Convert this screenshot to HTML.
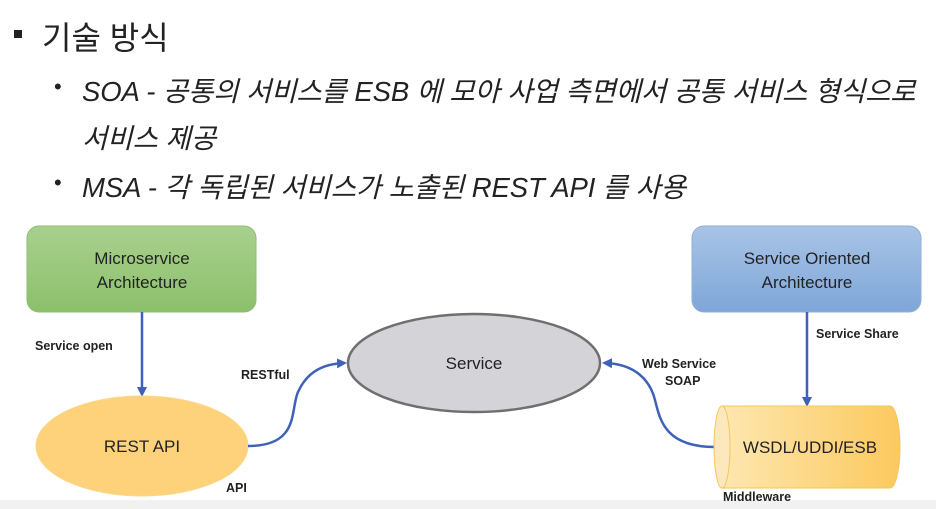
<!DOCTYPE html>
<html><head><meta charset="utf-8"><style>
html,body{margin:0;padding:0;background:#fff;}
body{width:936px;height:509px;position:relative;overflow:hidden;font-family:"Liberation Sans","Noto Sans CJK KR",sans-serif;}
.t{position:absolute;white-space:nowrap;color:#222;}
.i{font-style:italic;font-size:27.5px;}
</style></head><body>
<div style="position:absolute;left:14px;top:30px;width:8px;height:8px;background:#222"></div>
<div class="t" style="left:42px;top:13px;font-size:32px;">기술 방식</div>
<div class="t" style="left:54px;top:74px;font-size:22px;">•</div>
<div class="t i" style="left:82px;top:69px;letter-spacing:-0.1px;">SOA - 공통의 서비스를 ESB 에 모아 사업 측면에서 공통 서비스 형식으로</div>
<div class="t i" style="left:82px;top:116px;">서비스 제공</div>
<div class="t" style="left:54px;top:170px;font-size:22px;">•</div>
<div class="t i" style="left:82px;top:165px;letter-spacing:-0.1px;">MSA - 각 독립된 서비스가 노출된 REST API 를 사용</div>
<svg width="936" height="509" style="position:absolute;left:0;top:0" font-family="Liberation Sans, sans-serif">
<defs>
<linearGradient id="g" x1="0" y1="0" x2="0" y2="1"><stop offset="0" stop-color="#a9d08e"/><stop offset="1" stop-color="#8cc06c"/></linearGradient>
<linearGradient id="b" x1="0" y1="0" x2="0" y2="1"><stop offset="0" stop-color="#a8c4e6"/><stop offset="1" stop-color="#7fa6d8"/></linearGradient>
<linearGradient id="y" x1="0" y1="0" x2="1" y2="0"><stop offset="0" stop-color="#fde7b0"/><stop offset="1" stop-color="#fcc95e"/></linearGradient>
<marker id="a" markerWidth="10" markerHeight="10" refX="7" refY="5" orient="auto" markerUnits="userSpaceOnUse"><path d="M0,0 L10,5 L0,10 z" fill="#3d62b8"/></marker>
</defs>
<rect x="0" y="500" width="936" height="9" fill="#f1f1f1"/>
<rect x="27" y="226" width="229" height="86" rx="12" fill="url(#g)" stroke="#8fbf72"/>
<text x="142" y="264" text-anchor="middle" font-size="17" fill="#222">Microservice</text>
<text x="142" y="288" text-anchor="middle" font-size="17" fill="#222">Architecture</text>
<rect x="692" y="226" width="229" height="86" rx="12" fill="url(#b)" stroke="#8fb0dc"/>
<text x="807" y="264" text-anchor="middle" font-size="17" fill="#222">Service Oriented</text>
<text x="807" y="288" text-anchor="middle" font-size="17" fill="#222">Architecture</text>
<line x1="142" y1="312" x2="142" y2="394" stroke="#3d62b8" stroke-width="2.5" marker-end="url(#a)"/>
<line x1="807" y1="312" x2="807" y2="404" stroke="#3d62b8" stroke-width="2.5" marker-end="url(#a)"/>
<ellipse cx="142" cy="446" rx="106" ry="50" fill="#fdd27a" stroke="#fbd78a"/>
<text x="142" y="452" text-anchor="middle" font-size="17" fill="#222">REST API</text>
<ellipse cx="474" cy="363" rx="126" ry="49" fill="#d4d3d8" stroke="#6f6f6f" stroke-width="2.5"/>
<text x="474" y="369" text-anchor="middle" font-size="17" fill="#222">Service</text>
<path d="M248,446 C300,446 290,410 298,392 C308,370 325,364 344,363" fill="none" stroke="#3d62b8" stroke-width="2.5" marker-end="url(#a)"/>
<path d="M715,447 C665,447 660,420 655,400 C650,380 635,364 605,363" fill="none" stroke="#3d62b8" stroke-width="2.5" marker-end="url(#a)"/>
<path d="M722,406 L890,406 A10,41 0 0 1 890,488 L722,488 Z" fill="url(#y)" stroke="#f6c65a"/>
<ellipse cx="722" cy="447" rx="8" ry="41" fill="#fde8bd" stroke="#f6c65a"/>
<text x="810" y="453" text-anchor="middle" font-size="17" fill="#222">WSDL/UDDI/ESB</text>
<g font-weight="bold" font-size="12.5" fill="#222">
<text x="35" y="350">Service open</text>
<text x="241" y="379">RESTful</text>
<text x="226" y="492">API</text>
<text x="816" y="338">Service Share</text>
<text x="642" y="368">Web Service</text>
<text x="665" y="385">SOAP</text>
<text x="723" y="501">Middleware</text>
</g>
</svg>
</body></html>
